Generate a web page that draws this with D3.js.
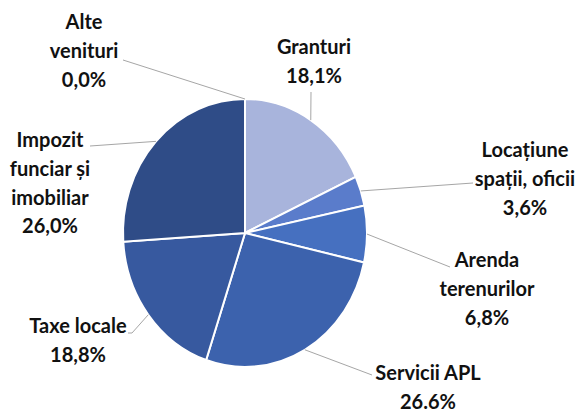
<!DOCTYPE html>
<html>
<head>
<meta charset="utf-8">
<script src="https://cdn.jsdelivr.net/npm/d3@7"></script>
<style>
  html, body { margin: 0; padding: 0; background: #fff; }
  text { font-family: Lato, "Open Sans", sans-serif; font-weight: 700; fill: #111; }
</style>
</head>
<body>
<div id="chart"></div>
<script>
// data, clockwise from 12 o'clock
const categories = ['Granturi', 'Locațiune spații, oficii', 'Arenda terenurilor', 'Servicii APL', 'Taxe locale', 'Impozit funciar și imobiliar', 'Alte venituri']
const values     = [18.1, 3.6, 6.8, 26.6, 18.8, 26.0, 0.0]
const valueLabels = ['18,1%', '3,6%', '6,8%', '26.6%', '18,8%', '26,0%', '0,0%']
const labelLines = [
  ['Granturi'],
  ['Locațiune', 'spații, oficii'],
  ['Arenda', 'terenurilor'],
  ['Servicii APL'],
  ['Taxe locale'],
  ['Impozit', 'funciar și', 'imobiliar'],
  ['Alte', 'venituri']
]
const colors = ['#a8b4dc', '#5a7ccb', '#4670c0', '#3c62ad', '#37599f', '#2f4c87', '#2a4478']

// layout for labels (center x, first baseline) and leader end points
const labelPos = [
  { x: 314, y: 54,  end: [[311, 92]] },
  { x: 525, y: 157, end: [[473, 183]] },
  { x: 487, y: 267, end: [[450, 267]] },
  { x: 428, y: 380, end: [[372, 375]] },
  { x: 78,  y: 333, end: [[132, 333], [128, 333]] },
  { x: 50,  y: 147, end: [[90, 146]] },
  { x: 84,  y: 29,  end: [[123, 60]] }
]

const width = 581, height = 410
const cx = 245, cy = 233, r = 122, sy = 134 / 122
const lineH = 28.8

const svg = d3.select('#chart').append('svg')
  .attr('width', width)
  .attr('height', height)

const data = categories.map((c, i) => ({ name: c, value: values[i], i: i }))

const pie = d3.pie()
  .sort(null)
  .value(d => d.value)
const arcs = pie(data)

const arc = d3.arc().innerRadius(0).outerRadius(r)
const edge = d3.arc().innerRadius(r).outerRadius(r)

const pieG = svg.append('g')
  .attr('transform', `translate(${cx}, ${cy}) scale(1, ${sy})`)

pieG.selectAll('path')
  .data(arcs)
  .join('path')
    .attr('d', arc)
    .attr('fill', d => colors[d.data.i])
    .attr('stroke', '#fff')
    .attr('stroke-width', 2)
    .attr('vector-effect', 'non-scaling-stroke')

// leader lines
const line = d3.line()
svg.append('g')
  .selectAll('path')
  .data(arcs)
  .join('path')
    .attr('d', d => {
      const p = edge.centroid(d)
      const start = [cx + p[0], cy + p[1] * sy]
      return line([start].concat(labelPos[d.data.i].end))
    })
    .attr('fill', 'none')
    .attr('stroke', '#a6a6a6')
    .attr('stroke-width', 1)

// labels
const labels = svg.append('g')
  .selectAll('text')
  .data(data)
  .join('text')
    .attr('text-anchor', 'middle')
    .attr('font-size', 20)
    .attr('x', d => labelPos[d.i].x)
    .attr('y', d => labelPos[d.i].y)

labels.selectAll('tspan')
  .data(d => labelLines[d.i].concat([valueLabels[d.i]]).map(t => ({ t: t, x: labelPos[d.i].x })))
  .join('tspan')
    .attr('x', d => d.x)
    .attr('dy', (d, j) => j === 0 ? 0 : lineH)
    .text(d => d.t)
</script>
</body>
</html>
